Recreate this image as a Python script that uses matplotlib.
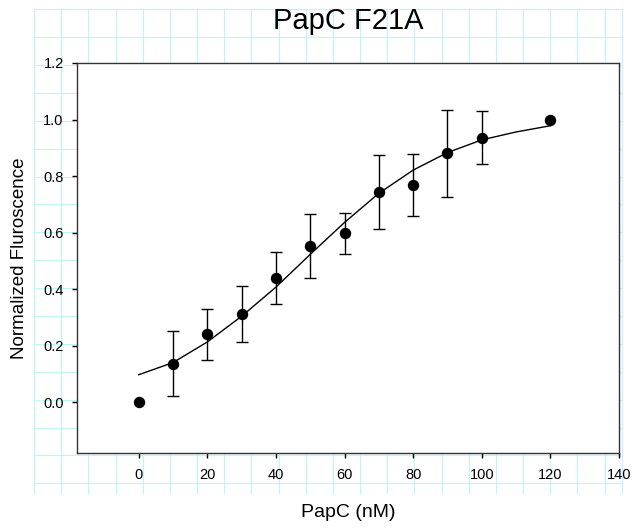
import matplotlib
matplotlib.use('Agg')
import matplotlib.pyplot as plt
from matplotlib.lines import Line2D
import numpy as np

plt.rcParams['font.family'] = ['Liberation Sans', 'DejaVu Sans']

# PapC F21A binding data
conc = [0, 10, 20, 30, 40, 50, 60, 70, 80, 90, 100, 120]
fluor = [0.0, 0.136, 0.240, 0.313, 0.439, 0.552, 0.597, 0.743, 0.769, 0.880, 0.936, 1.0]
fluor_err = [np.nan, 0.114, 0.090, 0.099, 0.092, 0.112, 0.073, 0.130, 0.109, 0.153, 0.093, np.nan]

# fitted curve
fit_x = [0, 10, 20, 30, 40, 50, 60, 70, 80, 90, 100, 110, 120]
fit_y = [0.097, 0.140, 0.213, 0.304, 0.407, 0.523, 0.636, 0.739, 0.821, 0.883, 0.928, 0.956, 0.978]

x_ticks = [0, 20, 40, 60, 80, 100, 120, 140]
y_ticks = [0.0, 0.2, 0.4, 0.6, 0.8, 1.0, 1.2]

W, H = 635, 531
fig = plt.figure(figsize=(W / 100, H / 100), dpi=100)


def fx(px):
    return px / W


def fy(py):
    return 1 - py / H


# page grid behind the graph (SigmaPlot style)
grid_col = '#bff5f5'
gx0, gx1, gy0, gy1 = 34, 621.7, 9.3, 493
for k in range(22):
    x = gx0 + 27.17 * k
    fig.add_artist(Line2D([fx(x), fx(x)], [fy(gy0), fy(gy1)], color=grid_col,
                          lw=0.8, zorder=-5, transform=fig.transFigure))
fig.add_artist(Line2D([fx(gx1), fx(gx1)], [fy(gy0), fy(gy1)], color=grid_col,
                      lw=0.8, zorder=-5, transform=fig.transFigure))
for k in range(18):
    y = gy0 + 27.88 * k
    fig.add_artist(Line2D([fx(gx0), fx(gx1)], [fy(y), fy(y)], color=grid_col,
                          lw=0.8, zorder=-5, transform=fig.transFigure))

ax = fig.add_axes([fx(77), fy(453), (619 - 77) / W, (453 - 63) / H])
ax.set_facecolor('white')

ax.plot(fit_x, fit_y, color='black', lw=1.0, zorder=2)
ax.errorbar(conc, fluor, yerr=fluor_err, fmt='o', color='black', ecolor='black',
            elinewidth=1.0, capsize=4.2, capthick=1.0, markersize=7.2, zorder=3)

ax.set_xlim(-18, 140)
ax.set_ylim(-0.18, 1.2)
ax.set_xticks(x_ticks)
ax.set_yticks(y_ticks)
ax.set_yticklabels([f'{v:.1f}' for v in y_ticks])
ax.tick_params(axis='both', direction='out', length=3.6, width=1.0, labelsize=10.5,
               colors='black')
ax.tick_params(axis='x', pad=7.5)
ax.tick_params(axis='y', pad=6)
for s in ax.spines.values():
    s.set_color('#333333')
    s.set_linewidth(1.0)

fig.text(fx(348.5), fy(29.3), 'PapC F21A', fontsize=21, ha='center', va='baseline')
fig.text(fx(348), fy(516.7), 'PapC (nM)', fontsize=14, ha='center', va='baseline')
fig.text(fx(19.5), fy(258), 'Normalized Fluroscence', fontsize=13.5, rotation=90,
         ha='center', va='center')

fig.savefig('out.png', dpi=100)
